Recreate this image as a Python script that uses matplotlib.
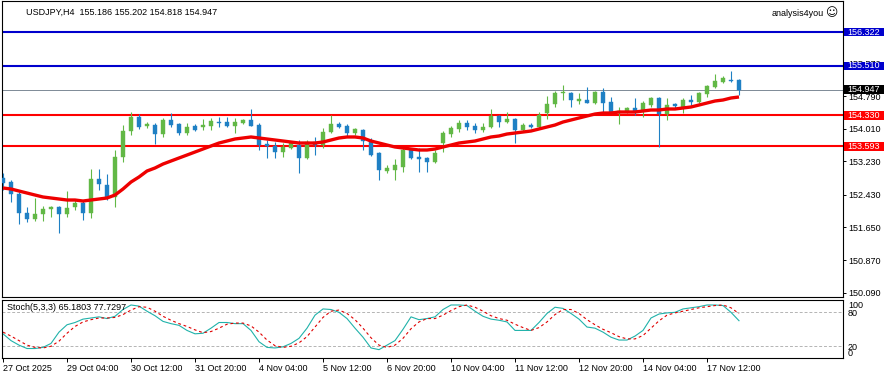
import matplotlib
matplotlib.use('Agg')
import matplotlib.pyplot as plt
import matplotlib.transforms as mtransforms
from matplotlib.patches import Rectangle

plt.rcParams['font.family'] = ['Liberation Sans', 'DejaVu Sans']

# USDJPY H4 candles, 27 Oct 20:00 .. 18 Nov 04:00
opens = [152.833, 152.737, 152.450, 151.995, 151.851, 151.971, 152.090, 152.138, 151.971, 152.138,
         152.234, 151.995, 152.809, 152.665, 152.378, 153.335, 153.957, 154.291, 154.076, 154.100,
         153.885, 154.220, 154.124, 153.909, 154.076, 154.052, 154.076, 154.172, 154.172, 154.076,
         154.148, 154.220, 154.100, 153.646, 153.598, 153.455, 153.550, 153.622, 153.311, 153.694,
         153.622, 153.933, 154.124, 154.076, 153.909, 153.981, 153.718, 153.431, 153.000, 153.024,
         153.096, 153.502, 153.335, 153.311, 153.215, 153.670, 153.885, 154.005, 154.148, 154.076,
         153.981, 154.052, 154.315, 154.172, 154.244, 153.981, 154.100, 154.052, 154.387, 154.602,
         154.865, 154.865, 154.673, 154.697, 154.626, 154.889, 154.650, 154.387, 154.435, 154.506,
         154.459, 154.578, 154.745, 154.363, 154.602, 154.506, 154.697, 154.650, 154.841, 155.008,
         155.128, 155.176, 155.186]
highs = [152.952, 152.785, 152.498, 152.138, 152.354, 152.162, 152.162, 152.162, 152.522, 152.330,
         152.306, 153.048, 153.048, 152.928, 153.502, 154.100, 154.411, 154.363, 154.172, 154.148,
         154.268, 154.387, 154.148, 154.148, 154.124, 154.244, 154.268, 154.291, 154.291, 154.268,
         154.244, 154.482, 154.148, 153.742, 153.694, 153.670, 153.694, 153.742, 153.742, 153.813,
         154.028, 154.339, 154.172, 154.124, 154.028, 154.005, 153.789, 153.455, 153.144, 153.287,
         153.550, 153.550, 153.550, 153.335, 153.502, 153.957, 154.076, 154.220, 154.220, 154.148,
         154.148, 154.482, 154.339, 154.411, 154.268, 154.148, 154.148, 154.411, 154.793, 154.912,
         155.056, 154.889, 154.865, 155.008, 154.912, 154.984, 154.769, 154.530, 154.530, 154.745,
         154.673, 154.769, 154.769, 154.745, 154.626, 154.745, 154.817, 154.889, 155.056, 155.319,
         155.271, 155.390, 155.202]
lows = [152.546, 152.258, 151.731, 151.779, 151.803, 151.803, 151.899, 151.516, 151.899, 152.066,
        151.827, 151.875, 152.546, 152.306, 152.138, 153.215, 153.861, 154.005, 154.028, 153.646,
        153.813, 154.052, 153.861, 153.861, 153.957, 153.981, 153.981, 154.052, 154.052, 153.909,
        154.124, 154.076, 153.502, 153.311, 153.311, 153.335, 153.526, 152.952, 153.287, 153.383,
        153.550, 153.909, 154.028, 153.813, 153.861, 153.502, 153.359, 152.785, 152.952, 152.785,
        152.976, 153.287, 152.976, 152.976, 153.191, 153.455, 153.813, 153.933, 153.981, 153.909,
        153.933, 154.028, 154.052, 154.148, 153.670, 153.933, 154.028, 154.028, 154.244, 154.530,
        154.697, 154.530, 154.602, 154.626, 154.602, 154.411, 154.387, 154.124, 154.387, 154.339,
        154.291, 154.530, 153.574, 154.220, 154.506, 154.387, 154.578, 154.626, 154.769, 154.984,
        155.104, 155.128, 154.818]
closes = [152.713, 152.450, 151.995, 151.851, 151.971, 152.090, 152.138, 151.971, 152.114, 152.234,
          151.995, 152.809, 152.689, 152.378, 153.335, 153.957, 154.291, 154.052, 154.124, 153.885,
          154.220, 154.100, 153.909, 154.052, 153.981, 154.100, 154.196, 154.148, 154.076, 154.172,
          154.220, 154.076, 153.622, 153.598, 153.455, 153.574, 153.670, 153.311, 153.694, 153.622,
          153.933, 154.124, 154.052, 153.909, 154.005, 153.718, 153.383, 153.024, 153.072, 153.144,
          153.502, 153.311, 153.287, 153.215, 153.431, 153.909, 154.028, 154.148, 154.052, 153.981,
          154.052, 154.315, 154.172, 154.244, 153.981, 154.100, 154.052, 154.339, 154.602, 154.865,
          154.889, 154.697, 154.721, 154.626, 154.889, 154.626, 154.411, 154.435, 154.506, 154.411,
          154.626, 154.745, 154.363, 154.578, 154.554, 154.697, 154.650, 154.865, 155.032, 155.152,
          155.223, 155.152, 154.947]

# moving average (red thick line)
ma = [152.594, 152.570, 152.522, 152.474, 152.426, 152.379, 152.355, 152.331, 152.307, 152.307,
      152.283, 152.307, 152.331, 152.355, 152.426, 152.570, 152.737, 152.857, 153.000, 153.072,
      153.167, 153.239, 153.311, 153.382, 153.454, 153.526, 153.598, 153.669, 153.717, 153.765,
      153.789, 153.813, 153.789, 153.765, 153.741, 153.717, 153.693, 153.669, 153.669, 153.669,
      153.693, 153.741, 153.789, 153.813, 153.813, 153.789, 153.717, 153.669, 153.621, 153.574,
      153.550, 153.526, 153.502, 153.502, 153.526, 153.574, 153.621, 153.669, 153.693, 153.717,
      153.765, 153.813, 153.837, 153.884, 153.908, 153.932, 153.956, 154.004, 154.052, 154.099,
      154.171, 154.219, 154.267, 154.315, 154.362, 154.386, 154.386, 154.410, 154.410, 154.410,
      154.434, 154.458, 154.458, 154.482, 154.482, 154.506, 154.530, 154.577, 154.625, 154.673,
      154.697, 154.745, 154.769]

# Stochastic(5,3,3)
stoch_main = [42, 30, 22, 16, 16, 18, 25, 45, 58, 62, 68, 70, 72, 69, 73, 85, 93, 91, 82, 74,
              64, 60, 57, 48, 42, 43, 52, 62, 62, 60, 60, 48, 28, 18, 17, 19, 25, 34, 52, 75,
              86, 85, 80, 69, 52, 36, 17, 14, 22, 30, 50, 72, 67, 69, 72, 85, 93, 93, 92, 82,
              73, 68, 66, 63, 48, 48, 48, 62, 78, 89, 87, 78, 68, 54, 52, 45, 36, 31, 31, 38,
              48, 70, 77, 79, 80, 86, 88, 90, 93, 93, 92, 80, 65.1803]
stoch_signal = [45, 38, 30, 22, 18, 17, 20, 29, 43, 55, 63, 67, 70, 70, 71, 76, 84, 90, 89, 82,
                73, 66, 60, 55, 49, 44, 46, 52, 59, 61, 61, 56, 45, 31, 21, 18, 20, 26, 37, 54,
                71, 82, 84, 78, 67, 52, 35, 22, 18, 22, 34, 51, 63, 69, 69, 75, 83, 90, 93, 89,
                82, 74, 69, 66, 59, 53, 48, 53, 63, 76, 85, 85, 78, 67, 58, 50, 44, 37, 33, 33,
                39, 52, 65, 75, 79, 82, 85, 88, 90, 92, 93, 88, 77.7297]

blue_levels = [156.322, 155.510]
red_levels = [154.330, 153.593]
price_ticks = [150.090, 150.870, 151.650, 152.430, 153.230, 154.010, 154.790, 155.570, 156.350]
time_ticks = [0, 8, 16, 24, 32, 40, 48, 56, 64, 72, 80, 88]
time_labels = ['27 Oct 2025', '29 Oct 04:00', '30 Oct 12:00', '31 Oct 20:00', '4 Nov 04:00',
               '5 Nov 12:00', '6 Nov 20:00', '10 Nov 04:00', '11 Nov 12:00', '12 Nov 20:00',
               '14 Nov 04:00', '17 Nov 12:00']

W, H = 888, 379
BULL = '#62b846'
BEAR = '#1f80c4'
BLUE = '#0000cd'
RED = '#ff0000'
FS = 6.5


def main():
    fig = plt.figure(figsize=(W / 100, H / 100), dpi=100)
    ax = fig.add_axes([2 / W, 1 - 297 / H, 841 / W, 296.5 / H])
    ax2 = fig.add_axes([2 / W, 1 - 358.3 / H, 841 / W, 58.8 / H])

    n = len(closes)
    xs = list(range(n))

    # --- price panel ---
    for lv in blue_levels:
        ax.axhline(lv, color=BLUE, lw=1.5, zorder=2)
    for lv in red_levels:
        ax.axhline(lv, color=RED, lw=1.5, zorder=2)
    ax.axhline(closes[-1], color='#7d8a96', lw=0.7, zorder=2)

    cols = [BULL if c >= o else BEAR for o, c in zip(opens, closes)]
    ax.vlines(xs, lows, highs, colors=cols, lw=0.8, zorder=3)
    bottoms = [min(o, c) for o, c in zip(opens, closes)]
    heights = [max(abs(c - o), 0.03) for o, c in zip(opens, closes)]
    ax.bar(xs, heights, bottom=bottoms, width=0.62, color=cols, edgecolor=cols,
           lw=0.3, zorder=3)
    ax.plot(xs, ma, color='#ee0000', lw=2.4, solid_capstyle='butt', zorder=4)

    ax.set_xlim(-0.125, 105)
    ax.set_ylim(149.989, 157.075)
    ax.set_xticks([])
    ax.yaxis.tick_right()
    ax.set_yticks(price_ticks, [f'{p:.3f}' for p in price_ticks], fontsize=FS)
    ax.tick_params(axis='y', length=2.2, width=0.7, pad=1.5)
    for s in ax.spines.values():
        s.set_linewidth(0.8)

    # price tags on the right scale
    tr = mtransforms.blended_transform_factory(ax.transAxes, ax.transData)
    tags = [(p, BLUE) for p in blue_levels] + [(p, RED) for p in red_levels] + [(closes[-1], 'black')]
    for p, bg in tags:
        ax.add_patch(Rectangle((1.0012, p - 0.105), 40 / 841, 0.21, transform=tr,
                               facecolor=bg, edgecolor='none', clip_on=False, zorder=5))
        ax.text(1.0050, p, f'{p:.3f}', transform=tr, ha='left', va='center',
                color='white', fontsize=FS, clip_on=False, zorder=6)

    # --- stochastic panel ---
    ax2.axhline(80, color='#b4b4b4', lw=0.7, ls=(0, (3, 2)))
    ax2.axhline(20, color='#b4b4b4', lw=0.7, ls=(0, (3, 2)))
    ax2.plot(xs, stoch_main, color='#20b2aa', lw=0.8)
    ax2.plot(xs, stoch_signal, color='#e00000', lw=0.8, ls=(0, (2.5, 2.5)))
    ax2.set_xlim(-0.125, 105)
    ax2.set_ylim(-1.3, 102.7)
    ax2.yaxis.tick_right()
    ax2.set_yticks([0, 20, 80, 100], ['0', '20', '80', '100'], fontsize=FS)
    ax2.tick_params(axis='y', length=0, pad=3.5)
    lbls = ax2.get_yticklabels()
    lbls[0].set_va('bottom')
    lbls[3].set_va('top')
    ax2.set_xticks(time_ticks, time_labels, fontsize=FS)
    ax2.tick_params(axis='x', length=3, width=0.7, pad=0.8)
    for t in ax2.get_xticklabels():
        t.set_ha('left')
    for s in ax2.spines.values():
        s.set_linewidth(0.8)

    # --- texts ---
    head = f'USDJPY,H4  {opens[-1]:.3f} {highs[-1]:.3f} {lows[-1]:.3f} {closes[-1]:.3f}'
    fig.text(26 / W, 1 - 12 / H, head, fontsize=FS, va='center')
    fig.text(824 / W, 1 - 13 / H, 'analysis4you', fontsize=FS, va='center', ha='right')
    fig.text(825 / W, 1 - 13 / H, '\u263a', fontsize=8.5, va='center', ha='left',
             family='DejaVu Sans')
    fig.text(7 / W, 1 - 308 / H,
             f'Stoch(5,3,3) {stoch_main[-1]:.4f} {stoch_signal[-1]:.4f}',
             fontsize=FS, va='center')

    fig.savefig('out.png', dpi=100)


if __name__ == '__main__':
    main()
